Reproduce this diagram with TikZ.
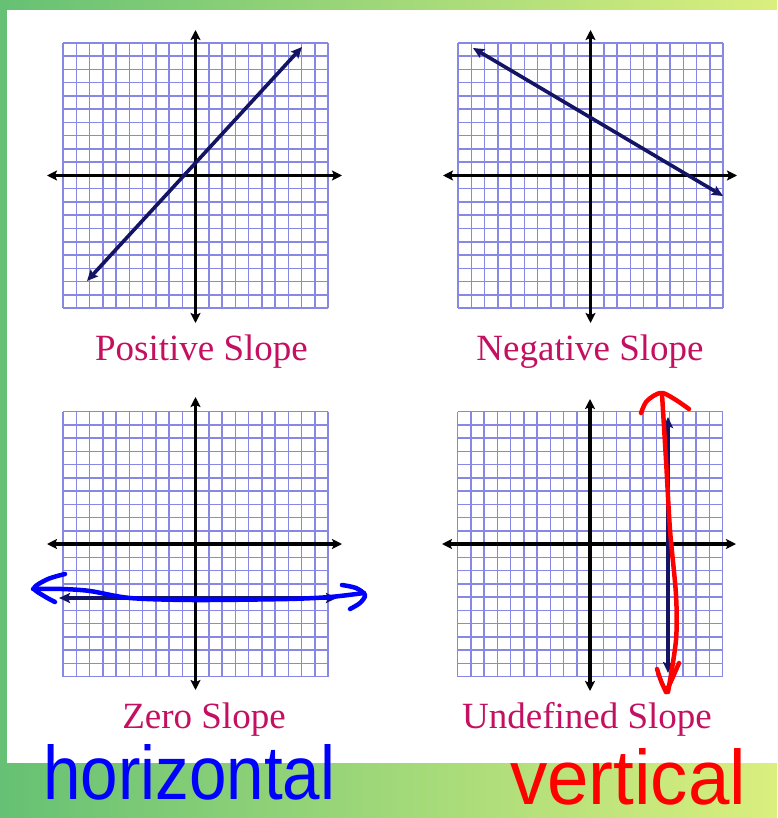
\documentclass[tikz,border=0pt]{standalone}
\usepackage{fontspec}
\setmainfont{Liberation Serif}
\newfontfamily\handfont{Liberation Sans}
\usetikzlibrary{arrows.meta}
\definecolor{gridc}{RGB}{135,135,228}
\definecolor{navyline}{RGB}{20,20,100}
\definecolor{labelc}{RGB}{196,16,96}
\definecolor{gleft}{RGB}{102,193,116}
\definecolor{gright}{RGB}{218,239,126}
\definecolor{handblue}{RGB}{0,0,255}
\definecolor{handred}{RGB}{255,0,0}
\newcommand\slopegrid[2]{%
  \foreach \k in {0,...,20}{%
    \draw[gridline] ({#1+\k*13.25},#2) -- ({#1+\k*13.25},{#2+265});
    \draw[gridline] (#1,{#2+\k*13.25}) -- ({#1+265},{#2+\k*13.25});
  }}
\begin{document}
\begin{tikzpicture}[x=1pt,y=-1pt,
  gridline/.style={draw=gridc,line width=1.5pt},
  axisline/.style={black,line width=3.6pt,{Stealth[length=10pt,width=10pt,inset=2pt]}-{Stealth[length=10pt,width=10pt,inset=2pt]}},
  graphline/.style={navyline,line width=3.6pt,{Stealth[length=11pt,width=10pt,inset=2pt]}-{Stealth[length=11pt,width=10pt,inset=2pt]}},
  lbl/.style={text=labelc,font=\fontsize{37}{40}\selectfont,anchor=base,inner sep=0pt},
  hand/.style={line width=4.5pt,line cap=round,line join=round},
  handtext/.style={inner sep=0pt,anchor=south west}]
\useasboundingbox (0,0) rectangle (777,818);
% background
\fill[left color=gleft,right color=gright] (0,0) rectangle (777,818);
\fill[white] (7,10) rectangle (777,763);
% grids
\slopegrid{63}{43}
\slopegrid{458}{43}
\slopegrid{63}{411.5}
\slopegrid{457.5}{411.5}
% axes
\coordinate (tlW) at (47,175.5); \coordinate (tlE) at (342,175.5);
\coordinate (tlN) at (195.5,30); \coordinate (tlS) at (195.5,323);
\coordinate (trW) at (443,175.5); \coordinate (trE) at (737,175.5);
\coordinate (trN) at (590.5,30); \coordinate (trS) at (590.5,323);
\coordinate (blW) at (47,544); \coordinate (blE) at (342,544);
\coordinate (blN) at (195.5,397); \coordinate (blS) at (195.5,690);
\coordinate (brW) at (442,544); \coordinate (brE) at (736,544);
\coordinate (brN) at (590,399); \coordinate (brS) at (590,691);
\draw[axisline] (tlW) -- (tlE);
\draw[axisline] (tlS) -- (tlN);
\draw[axisline] (trW) -- (trE);
\draw[axisline] (trS) -- (trN);
\draw[axisline] (blW) -- (blE);
\draw[axisline] (blS) -- (blN);
\draw[axisline] (brW) -- (brE);
\draw[axisline] (brS) -- (brN);
% lines
\coordinate (posA) at (87,281); \coordinate (posB) at (302,47);
\coordinate (negA) at (473,48); \coordinate (negB) at (723,196);
\coordinate (zeroA) at (59,598); \coordinate (zeroB) at (337,598);
\coordinate (undA) at (668,417); \coordinate (undB) at (668,673);
\draw[graphline] (posA) -- (posB);
\draw[graphline] (negA) -- (negB);
\draw[graphline] (zeroA) -- (zeroB);
\draw[graphline] (undA) -- (undB);
% labels
\node[lbl] (lpos) at (201.5,360) {Positive Slope};
\node[lbl] (lneg) at (590,360) {Negative Slope};
\node[lbl] (lzero) at (204,728) {Zero Slope};
\node[lbl] (lund) at (587,728) {Undefined Slope};
% hand-drawn blue
\draw[hand,handblue] plot[smooth] coordinates {(33,589) (62,589) (90,591) (130,598) (193,600) (287,599) (330,597) (364,593)};
\draw[hand,handblue] plot[smooth] coordinates {(65,574) (48,579) (34,588) (44,596) (55,602)};
\draw[hand,handblue] plot[smooth] coordinates {(342,585) (356,588) (365,595) (360,603) (350,609)};
% hand-drawn red
\draw[hand,handred] plot[smooth] coordinates {(662,394) (666,460) (670,530) (676,595) (676,640) (668,692)};
\draw[hand,handred] plot[smooth] coordinates {(641,413) (646,402) (655,395) (663,393) (676,400) (689,409)};
\draw[hand,handred] plot[smooth] coordinates {(657,669) (661,681) (666,692)};
\draw[hand,handred] plot[smooth] coordinates {(666,692) (672,679) (679,663)};
% handwritten words
\node[handtext,text=handblue] (whor) at (43,800) {\resizebox{292pt}{55pt}{\handfont horizontal}};
\node[handtext,text=handred] (wver) at (510,805) {\resizebox{236pt}{56pt}{\handfont vertical}};
\end{tikzpicture}
\end{document}
